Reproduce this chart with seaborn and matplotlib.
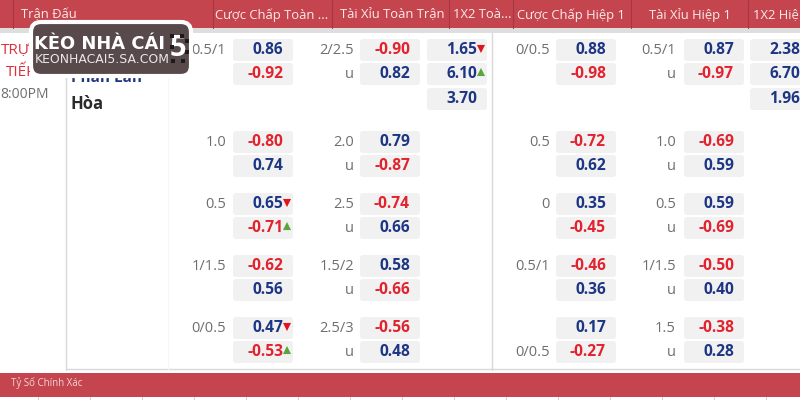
import numpy as np
import pandas as pd
import matplotlib
matplotlib.use("Agg")
import matplotlib.pyplot as plt
from matplotlib.patches import FancyBboxPatch, Rectangle
import seaborn as sns

# ------------------------------------------------------------------
# data
# ------------------------------------------------------------------
headers = ["Trận Đấu", "Cược Chấp Toàn ...", "Tài Xỉu Toàn Trận", "1X2 Toà...",
           "Cược Chấp Hiệp 1", "Tài Xỉu Hiệp 1", "1X2 Hiệ"]

ft_hdp_lines = ["0.5/1", "1.0", "0.5", "1/1.5", "0/0.5"]
ft_ou_lines = ["2/2.5", "2.0", "2.5", "1.5/2", "2.5/3"]
h1_hdp_lines = ["0/0.5", "0.5", "0", "0.5/1", ""]
h1_ou_lines = ["0.5/1", "1.0", "0.5", "1/1.5", "1.5"]
h1_hdp_under = ["", "", "", "", "0/0.5"]

ft_hdp = [0.86, -0.92, -0.80, 0.74, 0.65, -0.71, -0.62, 0.56, 0.47, -0.53]
ft_ou = [-0.90, 0.82, 0.79, -0.87, -0.74, 0.66, 0.58, -0.66, -0.56, 0.48]
ft_1x2 = [1.65, 6.10, 3.70]
h1_hdp = [0.88, -0.98, -0.72, 0.62, 0.35, -0.45, -0.46, 0.36, 0.17, -0.27]
h1_ou = [0.87, -0.97, -0.69, 0.59, 0.59, -0.69, -0.50, 0.40, -0.38, 0.28]
h1_1x2 = [2.38, 6.70, 1.96]

# which odds moved: (column, index in column, direction)
moves = [("ft_1x2", 0, "down"), ("ft_1x2", 1, "up"),
         ("ft_hdp", 4, "down"), ("ft_hdp", 5, "up"),
         ("ft_hdp", 8, "down"), ("ft_hdp", 9, "up")]

# ------------------------------------------------------------------
# layout, in screen pixels
# ------------------------------------------------------------------
RED = "#c5454f"
NAVY = "#1d3684"
ODD_RED = "#e2232e"
GREY = "#6e6e6e"
CELL = "#f1f1f2"

row_y = [50, 74, 142, 166, 204, 228, 266, 290, 328, 352]
x12_y = [50, 74, 99]
header_x = [21, 215, 340, 453, 517, 649, 753]
header_seps = [13, 213, 332, 449, 513, 631, 748]
cell_left = {"ft_hdp": 233, "ft_ou": 360, "ft_1x2": 427, "h1_hdp": 556, "h1_ou": 684, "h1_1x2": 750}
CELL_W, CELL_H = 60, 22

sns.set_theme(style="white")
plt.rcParams["font.family"] = ["Open Sans", "DejaVu Sans"]

fig = plt.figure(figsize=(8, 4), dpi=100)
ax = fig.add_axes([0, 0, 1, 1])
ax.set_xlim(0, 800)
ax.set_ylim(400, 0)
ax.axis("off")

# header and footer bands
ax.add_patch(Rectangle((0, 0), 800, 28, color=RED, lw=0))
ax.add_patch(Rectangle((0, 28), 800, 5, color="#dedede", lw=0))
ax.add_patch(Rectangle((0, 373), 800, 24, color=RED, lw=0))
for x in header_seps:
    ax.plot([x, x], [0, 28], color="#a9363f", lw=0.8)
for x, h in zip(header_x, headers):
    ax.text(x, 15, h, color="#fbeaea", fontsize=9.4, va="center", ha="left", clip_on=True)
ax.text(11, 383, "Tỷ Số Chính Xác", color="#f3d5d6", fontsize=7, va="center")
for x in np.arange(38, 800, 52):
    ax.plot([x, x], [397, 400], color="#cfcfcf", lw=0.8)

# table rules
ax.plot([66, 66], [33, 370], color="#d8d8d8", lw=1)
ax.plot([492, 492], [33, 370], color="#d8d8d8", lw=1)
ax.plot([66, 800], [369, 369], color="#d8d8d8", lw=1)
ax.plot([168, 168], [33, 369], color="#f6f6f6", lw=0.8)

# match column
ax.text(20, 50, "TRỰC", color="#d8323c", fontsize=11, va="center", ha="center")
ax.text(21, 73, "TIẾP", color="#d8323c", fontsize=11, va="center", ha="center")
ax.text(0, 95, "8:00PM", color=GREY, fontsize=10, va="center", ha="left")
ax.text(71, 78, "Phần Lan", color=NAVY, fontsize=11, fontweight="bold", va="center")
ax.text(71, 104, "Hòa", color="#2b2b2b", fontsize=12, fontweight="bold", va="center")


def draw_odds(col, values, ys):
    left = cell_left[col]
    for v, y in zip(values, ys):
        ax.add_patch(FancyBboxPatch((left, y - CELL_H / 2), CELL_W, CELL_H,
                                    boxstyle="round,pad=0,rounding_size=3",
                                    fc=CELL, ec="none"))
        ax.text(left + CELL_W - 10, y, f"{v:.2f}", color=ODD_RED if v < 0 else NAVY,
                fontsize=11.2, fontweight="bold", va="center", ha="right")


draw_odds("ft_hdp", ft_hdp, row_y)
draw_odds("ft_ou", ft_ou, row_y)
draw_odds("ft_1x2", ft_1x2, x12_y)
draw_odds("h1_hdp", h1_hdp, row_y)
draw_odds("h1_ou", h1_ou, row_y)
draw_odds("h1_1x2", h1_1x2, x12_y)

# line labels beside the odds
top_rows = row_y[::2]
under_rows = row_y[1::2]
for labels, right in [(ft_hdp_lines, 226), (ft_ou_lines, 354), (h1_hdp_lines, 550), (h1_ou_lines, 676)]:
    for lab, y in zip(labels, top_rows):
        ax.text(right, y, lab, color=GREY, fontsize=10.5, va="center", ha="right")
for lab, y in zip(h1_hdp_under, under_rows):
    ax.text(550, y, lab, color=GREY, fontsize=10.5, va="center", ha="right")
for right in (354, 676):
    for y in under_rows:
        ax.text(right, y, "u", color=GREY, fontsize=10.5, va="center", ha="right")

# movement arrows
col_ys = {"ft_1x2": x12_y, "ft_hdp": row_y}
arrows = pd.DataFrame({
    "x": [cell_left[c] + CELL_W - 6 for c, i, d in moves],
    "y": [col_ys[c][i] - (1 if d == "down" else 2) for c, i, d in moves],
    "dir": [d for c, i, d in moves],
})
sns.scatterplot(data=arrows, x="x", y="y", hue="dir", style="dir",
                hue_order=["down", "up"], style_order=["down", "up"],
                markers={"down": "v", "up": "^"},
                palette={"down": "#e2141e", "up": "#5aa63c"},
                s=34, linewidth=0, legend=False, ax=ax, zorder=4)
ax.set_xlim(0, 800)
ax.set_ylim(400, 0)
ax.axis("off")

# logo badge on top of the table
ax.add_patch(FancyBboxPatch((31, 22), 160, 54, boxstyle="round,pad=0,rounding_size=10",
                            fc="#58494b", ec="white", lw=3, zorder=6))
ax.text(34, 44, "KÈO NHÀ CÁI", color="white", fontsize=12.9, fontweight="bold",
        family="DejaVu Sans", va="center", ha="left", zorder=7)
ax.text(35, 59.5, "KEONHACAI5.SA.COM", color="#ece8e8", fontsize=8.9, va="center", ha="left",
        family="DejaVu Sans", zorder=7)
ax.text(178, 49, "5", color="white", fontsize=21, fontweight="bold", va="center", ha="center",
        zorder=7)
ax.scatter([172, 182, 187, 172, 187, 173, 183], [36, 36, 41, 47, 52, 61, 61], marker="s", s=10,
           color="#1c1a1b", linewidth=0, zorder=8)

fig.savefig("out.png", dpi=100)
plt.close(fig)
